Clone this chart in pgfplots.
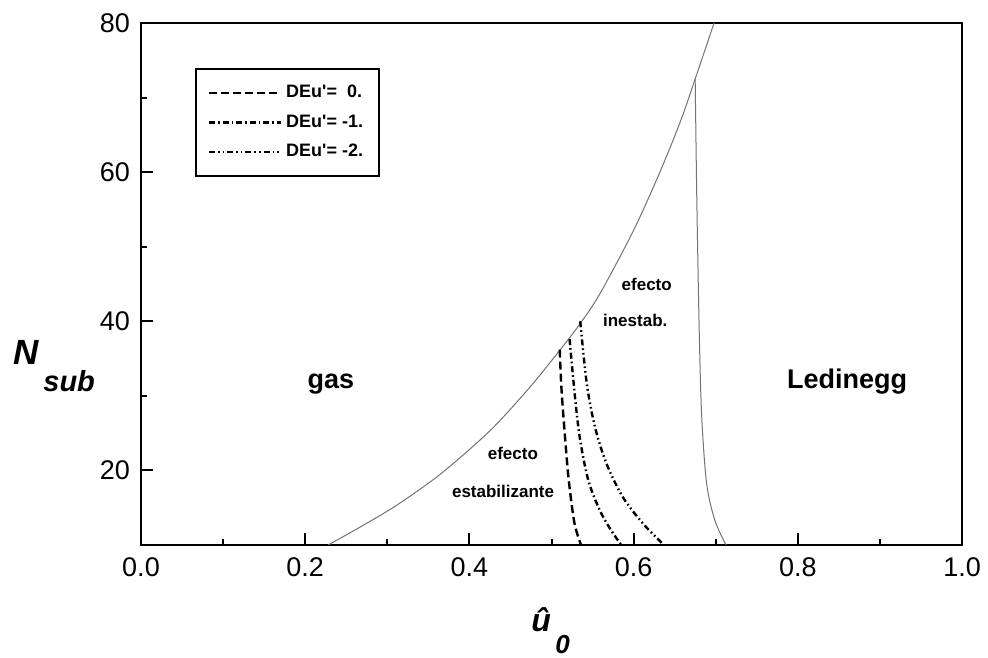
\documentclass[border=0pt]{standalone}
\usepackage{fontspec}
\setmainfont{Liberation Sans}
\usepackage{pgfplots}
\pgfplotsset{compat=1.18}
\begin{document}
\begin{tikzpicture}
\path[use as bounding box] (-70.5pt,-56pt) rectangle (423.5pt,272.5pt);
\begin{axis}[
  scale only axis, width=410.5pt, height=261pt,
  xmin=0, xmax=1, ymin=10, ymax=80,
  axis line style={line width=1.3pt},
  xtick={0,0.2,0.4,0.6,0.8,1.0}, xticklabels={0.0,0.2,0.4,0.6,0.8,1.0},
  minor xtick={0.1,0.3,0.5,0.7,0.9},
  ytick={20,40,60,80}, yticklabels={20,40,60,80},
  minor ytick={30,50,70},
  tick align=inside, tick pos=left,
  major tick length=6pt, minor tick length=3pt,
  every tick/.style={black, line width=1pt},
  tick label style={font=\fontsize{13.5}{15}\selectfont},
  xticklabel style={yshift=-3pt},
  yticklabel style={xshift=-2pt},
  clip mode=individual,
  legend style={at={(axis cs:0.0658,73.9)}, anchor=north west, draw=black,
    line width=0.8pt, font=\bfseries\fontsize{9}{11}\selectfont,
    inner xsep=6pt, inner ysep=6pt, row sep=3pt},
  legend cell align=left,
  legend image code/.code={\draw[#1] (0pt,0pt) -- (36pt,0pt);},
]
\addplot[black!55, line width=0.5pt, smooth, tension=0.5, forget plot] coordinates {
(0.228,10)(0.270,12.6)(0.311,15.3)(0.360,19.1)(0.401,22.9)(0.433,26.2)(0.474,31.2)
(0.510,36.1)(0.535,39.7)(0.559,43.7)(0.600,52.2)(0.632,60.0)(0.657,66.8)(0.675,72.5)(0.698,80)};
\addplot[black!55, line width=0.5pt, smooth, tension=0.5, forget plot] coordinates {
(0.675,72.5)(0.677,56.2)(0.680,38.3)(0.683,27.1)(0.689,18.2)(0.699,13.3)(0.7125,10)};
\addplot[black, line width=1.2pt, dash pattern=on 4pt off 2pt, smooth, tension=0.5] coordinates {
(0.510,36.2)(0.512,31.2)(0.516,25.1)(0.521,18.7)(0.528,12.9)(0.536,10)};
\addlegendentry{DEu\textquotesingle=\ \ 0.}
\addplot[black, line width=1.2pt, dash pattern=on 3pt off 1.5pt on 0.8pt off 1.5pt, smooth, tension=0.5] coordinates {
(0.522,37.6)(0.529,29.4)(0.535,24.0)(0.545,18.6)(0.559,14.6)(0.573,11.9)(0.585,10)};
\addlegendentry{DEu\textquotesingle= -1.}
\addplot[black, line width=1.2pt, dash pattern=on 3pt off 1.5pt on 0.8pt off 1.5pt on 0.8pt off 1.5pt, smooth, tension=0.5] coordinates {
(0.535,40.0)(0.543,31.6)(0.553,25.8)(0.567,20.9)(0.587,16.4)(0.612,12.8)(0.637,10)};
\addlegendentry{DEu\textquotesingle= -2.}
\node[font=\bfseries\fontsize{13.5}{15}\selectfont] at (axis cs:0.2314,31.6) {gas};
\node[font=\bfseries\fontsize{13.5}{15}\selectfont] at (axis cs:0.860,31.9) {Ledinegg};
\node[font=\bfseries\fontsize{8.5}{10}\selectfont] at (axis cs:0.453,22.3) {efecto};
\node[font=\bfseries\fontsize{8.5}{10}\selectfont] at (axis cs:0.441,17.2) {estabilizante};
\node[font=\bfseries\fontsize{8.5}{10}\selectfont] at (axis cs:0.616,45.0) {efecto};
\node[font=\bfseries\fontsize{8.5}{10}\selectfont] at (axis cs:0.602,40.1) {inestab.};
\node[anchor=base west, inner sep=0pt, font=\bfseries\itshape\fontsize{17.5}{20}\selectfont]
  at ([xshift=-64pt,yshift=90pt]rel axis cs:0,0) {N};
\node[anchor=base west, inner sep=0pt, font=\bfseries\itshape\fontsize{14.5}{16}\selectfont]
  at ([xshift=-49pt,yshift=76.5pt]rel axis cs:0,0) {sub};
\node[anchor=base west, inner sep=0pt, font=\bfseries\itshape\fontsize{16}{18}\selectfont]
  at ([xshift=195pt,yshift=-43pt]rel axis cs:0,0) {û};
\node[anchor=base west, inner sep=0pt, font=\bfseries\itshape\fontsize{13}{15}\selectfont]
  at ([xshift=207pt,yshift=-54pt]rel axis cs:0,0) {0};
\end{axis}
\end{tikzpicture}
\end{document}
